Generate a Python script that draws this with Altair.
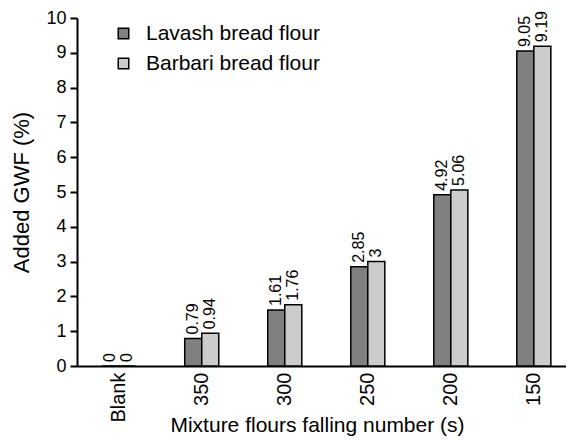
import altair as alt
import pandas as pd

categories = ["Blank", "350", "300", "250", "200", "150"]
series = ["Lavash bread flour", "Barbari bread flour"]
lavash = [0, 0.79, 1.61, 2.85, 4.92, 9.05]
barbari = [0, 0.94, 1.76, 3, 5.06, 9.19]
labels_lavash = ["0", "0.79", "1.61", "2.85", "4.92", "9.05"]
labels_barbari = ["0", "0.94", "1.76", "3", "5.06", "9.19"]

rows = []
for c, v, l in zip(categories, lavash, labels_lavash):
    rows.append({"cat": c, "series": series[0], "value": v, "label": l})
for c, v, l in zip(categories, barbari, labels_barbari):
    rows.append({"cat": c, "series": series[1], "value": v, "label": l})
df = pd.DataFrame(rows)

FONT = "Liberation Sans"

x = alt.X("cat:N", sort=categories, title="Mixture flours falling number (s)",
          scale=alt.Scale(paddingInner=0.59, paddingOuter=0.24, align=0.62),
          axis=alt.Axis(labelAngle=-90, labelFontSize=20, titleFontSize=21,
                        labelFont=FONT, titleFont=FONT, ticks=False, domain=True,
                        labelColor="black", titleColor="black", titleFontWeight="normal",
                        domainColor="black", domainWidth=2, labelPadding=6,
                        titleY=65, titleBaseline="alphabetic", titleX=240,
                        labelAlign="right", labelBaseline="middle"))
y = alt.Y("value:Q", title="Added GWF (%)",
          scale=alt.Scale(domain=[0, 10], nice=False),
          axis=alt.Axis(values=list(range(0, 11)), labelFontSize=18, titleFontSize=22,
                        labelFont=FONT, titleFont=FONT, grid=False, domain=True,
                        labelColor="black", titleColor="black", titleFontWeight="normal",
                        domainColor="black", domainWidth=2, tickColor="black",
                        tickWidth=2, tickSize=7, labelPadding=4, titlePadding=12))
xo = alt.XOffset("series:N", sort=series)

bars = alt.Chart(df).mark_bar(stroke="black", strokeWidth=1.5).encode(
    x=x, y=y, xOffset=xo,
    color=alt.Color("series:N", sort=series,
                    scale=alt.Scale(domain=series, range=["#808080", "#cccccc"]),
                    legend=alt.Legend(title=None, orient="none", legendX=36, legendY=5,
                                      labelFontSize=21, labelFont=FONT, labelColor="black",
                                      labelLimit=400,
                                      symbolType="square", symbolSize=110,
                                      symbolStrokeColor="black", symbolStrokeWidth=1.5,
                                      rowPadding=8, labelOffset=12)),
)

text = alt.Chart(df).mark_text(angle=270, align="left", baseline="middle", dx=4,
                               fontSize=16, font=FONT, color="black").encode(
    x=x, y=y, xOffset=xo, text="label:N"
)

chart = (bars + text).properties(
    width=489, height=348,
    padding={"left": 69, "top": 10, "right": 0, "bottom": 72},
    autosize=alt.AutoSizeParams(type="none"),
).configure_view(stroke=None)

chart.save("out.html", embed_options={"renderer": "svg", "actions": False})
